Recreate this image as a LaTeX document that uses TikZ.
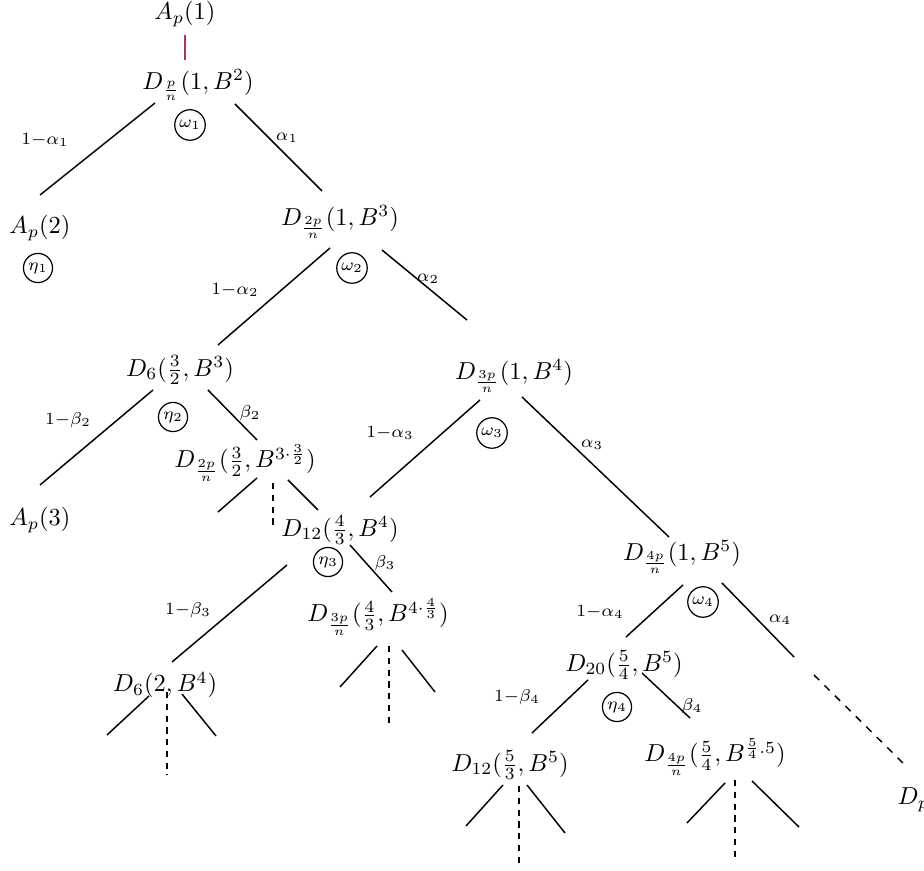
\documentclass[tikz,border=0pt]{standalone}
\usetikzlibrary{calc}

\tikzset{every picture/.style={line width=0.6pt}}
\tikzset{
  term/.style={inner sep=0.75pt},
  prob/.style={inner sep=0.75pt,font=\scriptsize},
  wgt/.style={draw,circle,inner sep=1pt,line width=0.5pt,font=\scriptsize},
  stub/.style={dash pattern={on 2.6pt off 2.2pt}}
}
\definecolor{rootline}{RGB}{170,50,90}

\begin{document}
\begin{tikzpicture}[x=0.408pt,y=0.408pt,yscale=-1,xscale=1]
	\useasboundingbox (0,0) rectangle (924,871);

	% Text Node
	\node [term] (a1) at (185,14) {$A_p(1)$};
	\node [term] (d1) at (198,85) {$D_{\frac{p}{n}}(1,B^2)$};
	\node [term] (a2) at (40,228) {$A_p(2)$};
	\node [term] (d2) at (340,222) {$D_{\frac{2p}{n}}(1,B^3)$};
	\node [term] (d6a) at (180,370) {$D_6(\frac{3}{2},B^3)$};
	\node [term] (a3) at (40,520) {$A_p(3)$};
	\node [term] (d2b) at (245,463) {$D_{\frac{2p}{n}}(\frac{3}{2},B^{3\cdot\frac{3}{2}})$};
	\node [term] (d3) at (514,376) {$D_{\frac{3p}{n}}(1,B^4)$};
	\node [term] (d12a) at (340,530) {$D_{12}(\frac{4}{3},B^4)$};
	\node [term] (d4) at (682,557) {$D_{\frac{4p}{n}}(1,B^5)$};
	\node [term] (d3b) at (378,617) {$D_{\frac{3p}{n}}(\frac{4}{3},B^{4\cdot\frac{4}{3}})$};
	\node [term] (d6b) at (165,685) {$D_6(2,B^4)$};
	\node [term] (d20) at (624,665) {$D_{20}(\frac{5}{4},B^5)$};
	\node [term] (d12b) at (510,765) {$D_{12}(\frac{5}{3},B^5)$};
	\node [term] (d4b) at (715,757) {$D_{\frac{4p}{n}}(\frac{5}{4},B^{\frac{5}{4}.5})$};
	\node [term,anchor=west] (dp) at (895,800) {$D_p$};

	% Circled weights
	\node [wgt] (w1) at (190,125) {$\omega_1$};
	\node [wgt] (h1) at (38,268) {$\eta_1$};
	\node [wgt] (w2) at (352,268) {$\omega_2$};
	\node [wgt] (h2) at (173,417) {$\eta_2$};
	\node [wgt] (w3) at (492,433) {$\omega_3$};
	\node [wgt] (h3) at (328,562) {$\eta_3$};
	\node [wgt] (w4) at (703,602) {$\omega_4$};
	\node [wgt] (h4) at (617,707) {$\eta_4$};

	% Edge labels
	\node [prob] (p1l) at (45,140) {$1{-}\alpha_1$};
	\node [prob] (p1r) at (287,138) {$\alpha_1$};
	\node [prob] (p2l) at (235,290) {$1{-}\alpha_2$};
	\node [prob] (p2r) at (428,279) {$\alpha_2$};
	\node [prob] (q2l) at (68,420) {$1{-}\beta_2$};
	\node [prob] (q2r) at (250,413) {$\beta_2$};
	\node [prob] (p3l) at (390,433) {$1{-}\alpha_3$};
	\node [prob] (p3r) at (592,445) {$\alpha_3$};
	\node [prob] (q3l) at (188,610) {$1{-}\beta_3$};
	\node [prob] (q3r) at (385,563) {$\beta_3$};
	\node [prob] (p4l) at (600,612) {$1{-}\alpha_4$};
	\node [prob] (p4r) at (780,620) {$\alpha_4$};
	\node [prob] (q4l) at (517,697) {$1{-}\beta_4$};
	\node [prob] (q4r) at (692,706) {$\beta_4$};

	%Straight Lines
	\draw [rootline] ($(a1)+(0,21)$) -- ($(d1)+(-13,-25)$);
	\draw ($(d1)+(-43,18)$) -- ($(a2)+(0,-33)$);
	\draw ($(d1)+(37,19)$) -- ($(d2)+(-18,-31)$);
	\draw ($(d2)+(-10,26)$) -- ($(d6a)+(38,-25)$);
	\draw ($(d2)+(42,28)$) -- ($(d3)+(-47,-56)$);
	\draw ($(d6a)+(-27,20)$) -- ($(a3)+(0,-35)$);
	\draw ($(d6a)+(28,20)$) -- ($(d2b)+(12,-23)$);
	\draw ($(d3)+(-34,24)$) -- ($(d12a)+(30,-33)$);
	\draw ($(d3)+(8,21)$) -- ($(d4)+(-13,-20)$);
	\draw ($(d12a)+(-53,35)$) -- ($(d6b)+(7,-23)$);
	\draw ($(d12a)+(10,15)$) -- ($(d3b)+(14,-25)$);
	\draw ($(d4)+(1,28)$) -- ($(d20)+(2,-28)$);
	\draw ($(d4)+(40,26)$) -- ($(d4)+(112,100)$);
	\draw [dashed] ($(d4)+(132,118)$) -- ($(dp.west)+(12,-33)$);
	\draw ($(d20)+(-36,15)$) -- ($(d12b)+(22,-32)$);
	\draw ($(d20)+(18,8)$) -- ($(d4b)+(-25,-39)$);

	% Open branches
	\draw ($(d2b)+(12,15)$) -- ++(-39,34);
	\draw [stub] ($(d2b)+(28,20)$) -- ++(0,47);
	\draw ($(d2b)+(43,17)$) -- ++(30,30);
	\draw ($(d3b)+(-1,29)$) -- ++(-37,41);
	\draw [stub] ($(d3b)+(11,29)$) -- ++(0,80);
	\draw ($(d3b)+(24,33)$) -- ++(33,42);
	\draw ($(d6b)+(-16,11)$) -- ++(-42,39);
	\draw [stub] ($(d6b)+(2,7)$) -- ++(0,83);
	\draw ($(d6b)+(17,9)$) -- ++(34,42);
	\draw ($(d12b)+(-7,20)$) -- ++(-37,41);
	\draw [stub] ($(d12b)+(9,21)$) -- ++(0,79);
	\draw ($(d12b)+(17,20)$) -- ++(38,48);
	\draw ($(d4b)+(10,26)$) -- ++(-38,40);
	\draw [stub] ($(d4b)+(20,23)$) -- ++(0,78);
	\draw ($(d4b)+(37,24)$) -- ++(47,46);
\end{tikzpicture}
\end{document}
